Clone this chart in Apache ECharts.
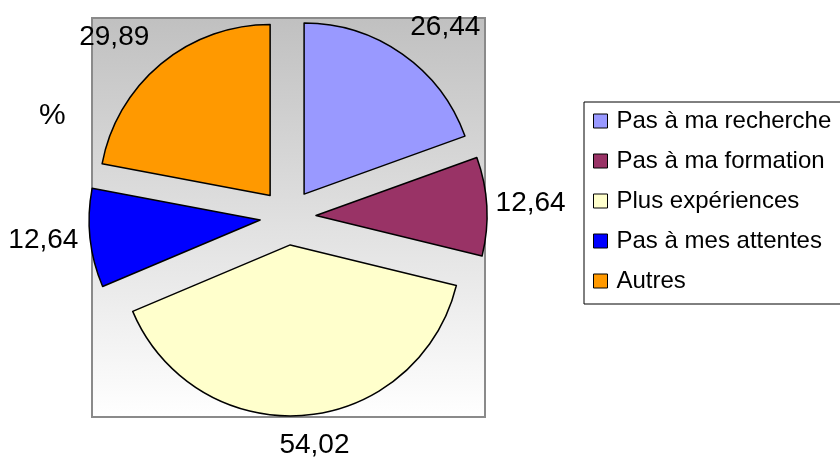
<!DOCTYPE html>
<html>
<head>
<meta charset="utf-8">
<script src="https://cdn.jsdelivr.net/npm/echarts@6/dist/echarts.min.js"></script>
<style>
  html, body { margin: 0; padding: 0; background: #fff; }
  #main { width: 840px; height: 457px; }
</style>
</head>
<body>
<div id="main"></div>
<script>
// données du graphique
var categories = ['Pas à ma recherche', 'Pas à ma formation', 'Plus expériences', 'Pas à mes attentes', 'Autres'];
var values = [26.44, 12.64, 54.02, 12.64, 29.89];
var colors = ['#9999ff', '#993366', '#ffffcc', '#0000ff', '#ff9900'];

// géométrie du camembert
var CX = 288, CY = 217, RADIUS = 171, OFFSET = 28, LABEL_GAP = 45;
// petits décalages des étiquettes (dx, dy)
var labelNudge = [[17, 10], [-1, -1], [7, -15], [-2, -3], [-18, 8]];
var FONT = "'Liberation Sans', Arial, sans-serif";

var total = values.reduce(function (a, b) { return a + b; }, 0);

function fmt(v) {
    return v.toFixed(2).replace('.', ',');
}

// position de l'étiquette : sur la bissectrice de la part, au-delà du rayon
function labelPos(i) {
    var before = 0;
    for (var k = 0; k < i; k++) before += values[k];
    var start = 90 - 360 * before / total;
    var mid = (start - 180 * values[i] / total) * Math.PI / 180;
    var d = OFFSET + RADIUS + LABEL_GAP;
    return [CX + d * Math.cos(mid) + labelNudge[i][0], CY - d * Math.sin(mid) + labelNudge[i][1]];
}

var chart = echarts.init(document.getElementById('main'), null, { renderer: 'canvas' });

var graphics = [{
    type: 'rect',
    z: 0,
    shape: { x: 92, y: 18, width: 393, height: 399 },
    style: {
        fill: new echarts.graphic.LinearGradient(0, 0, 0, 1, [
            { offset: 0, color: '#c0c0c0' },
            { offset: 1, color: '#ffffff' }
        ]),
        stroke: '#8a8a8a',
        lineWidth: 2
    }
}];

values.forEach(function (v, i) {
    var pos = labelPos(i);
    graphics.push({
        type: 'text',
        z: 10,
        x: pos[0],
        y: pos[1],
        style: {
            text: fmt(v),
            fill: '#000',
            font: '28px ' + FONT,
            align: 'center',
            verticalAlign: 'middle',
            textAlign: 'center',
            textVerticalAlign: 'middle'
        }
    });
});

var option = {
    animation: false,
    title: {
        text: '%',
        left: 34,
        top: 96,
        textStyle: { fontSize: 30, fontWeight: 'normal', color: '#000', fontFamily: FONT }
    },
    graphic: graphics,
    legend: {
        orient: 'vertical',
        left: 584,
        top: 102,
        padding: [7, 40, 11, 9],
        borderColor: '#000',
        borderWidth: 1,
        itemWidth: 14,
        itemHeight: 14,
        itemGap: 16,
        icon: 'rect',
        itemStyle: { borderColor: '#000', borderWidth: 1 },
        textStyle: { fontSize: 24, lineHeight: 24, color: '#000', fontFamily: FONT, padding: [0, 0, 0, 4] },
        data: categories
    },
    series: [{
        type: 'pie',
        center: [CX, CY],
        radius: RADIUS,
        startAngle: 90,
        clockwise: true,
        selectedMode: 'multiple',
        selectedOffset: OFFSET,
        z: 2,
        emphasis: { disabled: true },
        itemStyle: { borderColor: '#000', borderWidth: 1.5 },
        label: { show: false },
        labelLine: { show: false },
        data: categories.map(function (name, i) {
            return {
                name: name,
                value: values[i],
                selected: true,
                itemStyle: { color: colors[i] },
                select: { itemStyle: { color: colors[i], borderColor: '#000', borderWidth: 1.5 } }
            };
        })
    }]
};

chart.setOption(option);
</script>
</body>
</html>
